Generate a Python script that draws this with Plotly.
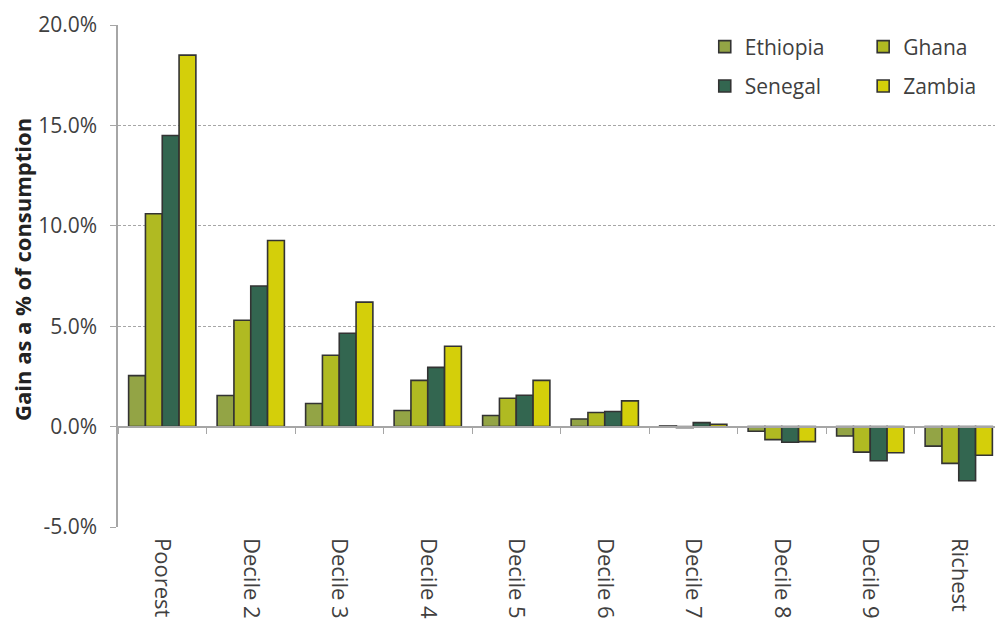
import plotly.graph_objects as go

categories = ["Poorest", "Decile 2", "Decile 3", "Decile 4", "Decile 5",
              "Decile 6", "Decile 7", "Decile 8", "Decile 9", "Richest"]
ethiopia = [2.54, 1.55, 1.15, 0.80, 0.55, 0.38, 0.03, -0.23, -0.47, -0.97]
ghana = [10.6, 5.30, 3.55, 2.30, 1.41, 0.70, -0.05, -0.65, -1.27, -1.83]
senegal = [14.5, 7.00, 4.65, 2.95, 1.56, 0.75, 0.20, -0.78, -1.70, -2.70]
zambia = [18.5, 9.27, 6.20, 4.00, 2.30, 1.28, 0.12, -0.75, -1.30, -1.43]
y_ticks = [-5, 0, 5, 10, 15, 20]

series = [
    ("Ethiopia", ethiopia, "#93a445", "legend"),
    ("Ghana", ghana, "#b0ba22", "legend2"),
    ("Senegal", senegal, "#336650", "legend"),
    ("Zambia", zambia, "#d4cf0a", "legend2"),
]

fig = go.Figure()
for name, vals, color, leg in series:
    fig.add_trace(go.Bar(
        x=categories, y=vals, name=name, legend=leg, legendgroup=name,
        marker=dict(color=color, line=dict(color="#333333", width=1.6)),
    ))

# invisible trace to carry the zero-line axis with boundary ticks
fig.add_trace(go.Scatter(x=categories, y=[None] * len(categories),
                         xaxis="x2", yaxis="y", showlegend=False,
                         hoverinfo="skip", mode="markers"))

ymin, ymax = -5, 20
zero_pos = (0 - ymin) / (ymax - ymin)

legend_style = dict(yanchor="top", xanchor="left", bgcolor="rgba(0,0,0,0)",
                    font=dict(size=21, color="#404040"),
                    tracegroupgap=9, itemwidth=30)

fig.update_layout(
    width=1003, height=620,
    margin=dict(l=110, r=8, t=17, b=101, autoexpand=False),
    paper_bgcolor="white", plot_bgcolor="white",
    font=dict(family="Open Sans, Noto Sans, sans-serif", color="#404040", size=16),
    barmode="group", bargap=0.24, bargroupgap=0,
    xaxis=dict(
        type="category", categoryorder="array", categoryarray=categories,
        tickangle=90, showline=False, showgrid=False, zeroline=False,
        ticks="", tickfont=dict(size=22, color="#404040"),
        ticklabelstandoff=10,
        range=[-0.5, len(categories) - 0.5], automargin=False,
    ),
    xaxis2=dict(
        type="category", categoryorder="array", categoryarray=categories,
        overlaying="x", anchor="free", position=zero_pos,
        range=[-0.5, len(categories) - 0.5],
        showline=True, linecolor="#a6a6a6", linewidth=1.5,
        ticks="outside", ticklen=7, tickcolor="#a6a6a6", tickwidth=1.2,
        tickson="boundaries", showticklabels=False, showgrid=False,
        zeroline=False, automargin=False,
    ),
    yaxis=dict(
        range=[ymin, ymax], tickvals=y_ticks,
        ticktext=[f"{v:.1f}%" for v in y_ticks],
        showgrid=True, gridcolor="#a6a6a6", griddash="3px,2px", gridwidth=1,
        zeroline=False, showline=True, linecolor="#a6a6a6", linewidth=1.5,
        ticks="outside", ticklen=6, tickcolor="#a6a6a6",
        tickfont=dict(size=21, color="#404040"), automargin=False,
        ticklabelstandoff=9,
    ),
    annotations=[dict(
        text="<b>Gain as a % of consumption</b>", textangle=-90,
        xref="paper", yref="paper", x=(22 - 118) / 885, y=0.512,
        xanchor="center", yanchor="middle", showarrow=False,
        font=dict(size=22, color="#222222"),
    )],
    legend=dict(x=0.663, y=0.997, **legend_style),
    legend2=dict(x=0.842, y=0.997, **legend_style),
    showlegend=True,
)

fig.write_html("out.html")
